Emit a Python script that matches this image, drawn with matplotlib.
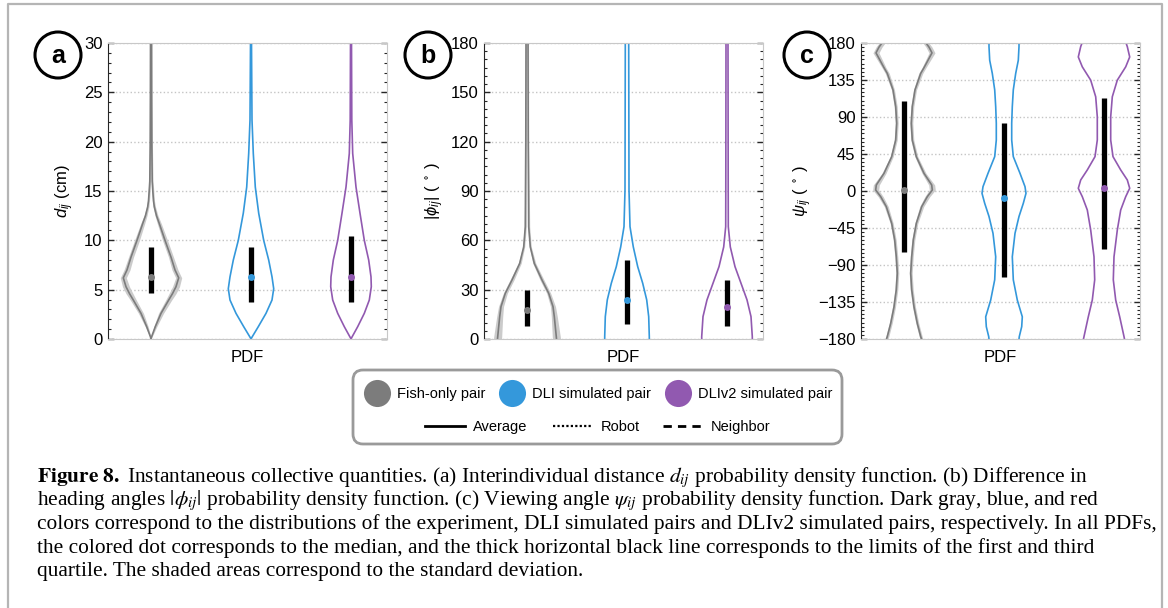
import numpy as np
import matplotlib
matplotlib.use("Agg")
import matplotlib.pyplot as plt
from matplotlib.patches import Circle, FancyBboxPatch
from matplotlib.ticker import MultipleLocator

plt.rcParams['font.family'] = ['Liberation Sans', 'DejaVu Sans']
plt.rcParams['mathtext.fontset'] = 'custom'
plt.rcParams['mathtext.rm'] = 'Liberation Sans'
plt.rcParams['mathtext.it'] = 'Liberation Sans:italic'
plt.rcParams['mathtext.bf'] = 'Liberation Sans:bold'
plt.rcParams['mathtext.fallback'] = 'stixsans'

groups = ['Fish-only pair', 'DLI simulated pair', 'DLIv2 simulated pair']
colors = ['#7c7c7c', '#3498db', '#9159b0']
positions = [1, 2, 3]

# ---- panel a : d_ij (cm). half widths in 1/100 of a category unit
a_gray_y = [0, 0.2, 1.25, 2.6, 3.95, 4.6, 5.3, 6.2, 7.0, 8.3, 10.0, 11.7, 12.5, 13.4, 14, 15, 16, 20, 25, 30]
a_gray_w = [0, 0.5, 4.3, 10, 17.7, 21.5, 25, 27.7, 24, 20, 14, 8.3, 5.5, 3.3, 2.5, 1.8, 1.2, 0.8, 0.6, 0.5]
a_gray_sd = [0, 0.5, 1.5, 2.5, 3, 3.5, 3.5, 3, 3, 2.5, 2.5, 2, 1.5, 1.2, 1, 1, 0.8, 0.6, 0.5, 0.5]
a_blue_y = [0, 0.07, 1.25, 2.6, 3.95, 5.1, 6.3, 8.0, 10.0, 12.75, 15.4, 18.8, 22.2, 30]
a_blue_w = [0, 0.3, 7.3, 15, 21, 22.7, 21, 17.7, 12.7, 7.7, 4.3, 2.3, 1, 0.5]
a_purple_y = [0, 0.07, 1.25, 2.6, 3.95, 5.3, 6.3, 8.0, 10.0, 12.75, 15.4, 18.8, 22.2, 30]
a_purple_w = [0, 0.3, 6.7, 13.3, 18.3, 20.3, 20, 17.7, 13.3, 9, 5, 1.7, 0.8, 0.5]
a_med = [6.3, 6.3, 6.3]
a_q1 = [4.7, 3.7, 3.7]
a_q3 = [9.35, 9.35, 10.4]

# ---- panel b : |phi_ij| (deg)
b_gray_y = [0, 1.4, 7.5, 13.6, 19.7, 27.8, 35.9, 46, 56, 68.3, 90.6, 120, 180]
b_gray_w = [29.5, 29.3, 28.3, 27.3, 26, 21.7, 15, 7.3, 3.3, 1.7, 1.5, 1.2, 1.0]
b_gray_sd = [4, 4, 3.5, 3, 2.5, 2, 2, 1.5, 1, 1, 0.8, 0.6, 0.5]
b_blue_y = [0, 1.4, 13.6, 23.8, 33.9, 44, 56, 68.3, 90.6, 180]
b_blue_w = [22.3, 22.3, 21.7, 19.7, 15.7, 10.7, 6.3, 3, 2, 1.7]
b_purple_y = [0, 1.4, 13.6, 23.8, 33.9, 44, 56, 68.3, 90.6, 180]
b_purple_w = [25.3, 25.3, 24, 20, 14, 8, 3.3, 1.3, 1.2, 1.0]
b_med = [17.6, 23.7, 19.3]
b_q1 = [8.1, 9.1, 8.1]
b_q3 = [29.8, 48, 35.9]

# ---- panel c : psi_ij (deg)
c_gray_y = [-180, -177, -161, -141, -120, -100, -80, -59.6, -39.4, -19, -6.9, 1.2, 7.3, 21.5, 41.8, 62, 82.4,
            102.6, 123, 143, 150, 159, 168, 175, 180]
c_gray_w = [17.5, 16.7, 13.3, 10, 7.7, 6.7, 7.7, 9.3, 12.3, 17.7, 23.3, 28.3, 27.7, 20, 12.3, 8.3, 7.3,
            8.3, 11, 16.7, 20, 24, 28, 25, 22]
c_gray_sd = [1.5, 1.5, 1.5, 1.5, 1.5, 1.5, 1.5, 1.5, 1.5, 2, 2.5, 3, 3, 2, 1.5, 1.5, 1.5,
             1.5, 1.5, 2, 2, 2.5, 3, 3, 3]
c_blue_y = [-180, -177, -165, -153, -132.6, -108, -80, -51.5, -31, -15, -2.8, 5.3, 21.5, 41.8, 62, 82.4,
            102.6, 123, 143, 159, 175.6, 180]
c_blue_w = [15, 15.3, 17.7, 18.3, 13.3, 9.3, 8.3, 11, 15, 19.3, 22, 21, 16, 9.3, 7.7, 7.7,
            8.3, 9.3, 11.7, 14.3, 15, 15]
c_purple_y = [-180, -177, -153, -132.6, -108, -80, -47.5, -23.1, -6.9, 3.3, 13.4, 25.6, 41.8, 62, 90.3,
              114.6, 134.8, 151, 163, 175.6, 180]
c_purple_w = [20.5, 20, 15.7, 11.7, 9.3, 10, 13.3, 16.7, 21.7, 25.7, 23.3, 16.7, 9, 6.7, 6.7,
              8.3, 13.3, 21.7, 25.7, 23.3, 22]
c_med = [1.2, -8.1, 4.0]
c_q1 = [-74.6, -104, -71]
c_q3 = [109.5, 83, 112.8]

panels = [
    ('a', r'$d_{ij}$ (cm)', (0, 30), 5, 1,
     [(a_gray_y, a_gray_w, a_gray_sd), (a_blue_y, a_blue_w, None), (a_purple_y, a_purple_w, None)],
     a_med, a_q1, a_q3),
    ('b', r'$|\phi_{ij}|$ ( $^\circ$ )', (0, 180), 30, 5,
     [(b_gray_y, b_gray_w, b_gray_sd), (b_blue_y, b_blue_w, None), (b_purple_y, b_purple_w, None)],
     b_med, b_q1, b_q3),
    ('c', r'$\psi_{ij}$ ( $^\circ$ )', (-180, 180), 45, 5,
     [(c_gray_y, c_gray_w, c_gray_sd), (c_blue_y, c_blue_w, None), (c_purple_y, c_purple_w, None)],
     c_med, c_q1, c_q3),
]

W, H = 1168, 608
fig = plt.figure(figsize=(W / 100, H / 100), dpi=100)

ax_left = [108, 484, 861]
label_x = [65, 435, 803]
circ_x = [58, 428, 807]
dark = '#262626'

for k, (tag, ylab, ylim, major, minor, viol, med, q1, q3) in enumerate(panels):
    ax = fig.add_axes([ax_left[k] / W, (H - 339) / H, 279 / W, 296 / H])
    ax.set_xlim(0.57, 3.36)
    ax.set_ylim(*ylim)
    ax.set_axisbelow(True)
    for i, (yy, ww, sd) in enumerate(viol):
        p = positions[i]
        yy = np.array(yy)
        ww = np.array(ww) / 100
        if sd is not None:
            s = np.array(sd) / 100
            ax.fill_betweenx(yy, p - ww - s, p - ww + s, color='#cbcbcb', lw=0, zorder=2)
            ax.fill_betweenx(yy, p + ww - s, p + ww + s, color='#cbcbcb', lw=0, zorder=2)
        ax.plot(p - ww, yy, color=colors[i], lw=1.2, zorder=2.5)
        ax.plot(p + ww, yy, color=colors[i], lw=1.2, zorder=2.5)
        ax.plot([p, p], [q1[i], q3[i]], color='k', lw=3.8, solid_capstyle='butt', zorder=3)
        ax.plot(p, med[i], 'o', ms=5, color=colors[i], mec='none', zorder=4)

    ax.yaxis.set_major_locator(MultipleLocator(major))
    ax.yaxis.set_minor_locator(MultipleLocator(minor))
    ax.set_xticks([])
    ax.yaxis.grid(True, which='major', linestyle=':', color='#c4c4c4', lw=1)
    ax.tick_params(axis='y', which='both', direction='in', left=True, right=True,
                   color=dark, labelsize=12, pad=4)
    ax.tick_params(axis='y', which='major', length=4, width=1)
    ax.tick_params(axis='y', which='minor', length=2.2, width=0.8)
    for side in ['top', 'bottom', 'right']:
        ax.spines[side].set_color('#c8c8c8')
    ax.spines['left'].set_color(dark)
    ax.set_xlabel('PDF', fontsize=12, labelpad=8)
    ax.set_ylabel(ylab, fontsize=12)
    ax.yaxis.set_label_coords((label_x[k] - ax_left[k]) / 279, 0.5)
    ax.yaxis.label.set_va('center')

# overlay in pixel coordinates for frame, panel tags, legend and caption
ov = fig.add_axes([0, 0, 1, 1], zorder=5)
ov.set_xlim(0, W)
ov.set_ylim(H, 0)
ov.axis('off')

ov.plot([8, 8, 1162, 1162], [612, 4, 4, 612], color='#b5b5b5', lw=1.6, clip_on=False)

for k, (tag, *_rest) in enumerate(panels):
    ov.add_patch(Circle((circ_x[k], 55), 23, fc='white', ec='k', lw=2.2))
    ov.text(circ_x[k], 56, tag, ha='center', va='center', fontsize=18, fontweight='bold')

ov.add_patch(FancyBboxPatch((353, 370), 489, 74, boxstyle='round,pad=0,rounding_size=10',
                            fc='white', ec='#9a9a9a', lw=2))
leg_cx = [377, 512, 678]
for i in range(3):
    ov.plot(leg_cx[i], 393, 'o', ms=19.5, color=colors[i], mec='none')
    ov.text(leg_cx[i] + 20, 394, groups[i], fontsize=10.5, va='center')

line_styles = ['-', (0, (1, 1)), (0, (3, 2.2))]
line_names = ['Average', 'Robot', 'Neighbor']
line_x0 = [425, 553, 663]
for i in range(3):
    ov.plot([line_x0[i], line_x0[i] + 40], [426, 426], color='k', lw=2 if i != 1 else 1.6,
            linestyle=line_styles[i])
    ov.text(line_x0[i] + 48, 427, line_names[i], fontsize=10.5, va='center')

caption = [
    r"$\mathbf{Figure\ 8.}$ Instantaneous collective quantities. (a) Interindividual distance $d_{ij}$ probability density function. (b) Difference in",
    r"heading angles $|\phi_{ij}|$ probability density function. (c) Viewing angle $\psi_{ij}$ probability density function. Dark gray, blue, and red",
    "colors correspond to the distributions of the experiment, DLI simulated pairs and DLIv2 simulated pairs, respectively. In all PDFs,",
    "the colored dot corresponds to the median, and the thick horizontal black line corresponds to the limits of the first and third",
    "quartile. The shaded areas correspond to the standard deviation.",
]
for j, line in enumerate(caption):
    ov.text(37, 482 + j * 23.5, line, fontsize=15.4, family='Liberation Serif',
            math_fontfamily='stix', va='baseline')

fig.savefig('out.png', dpi=100)
